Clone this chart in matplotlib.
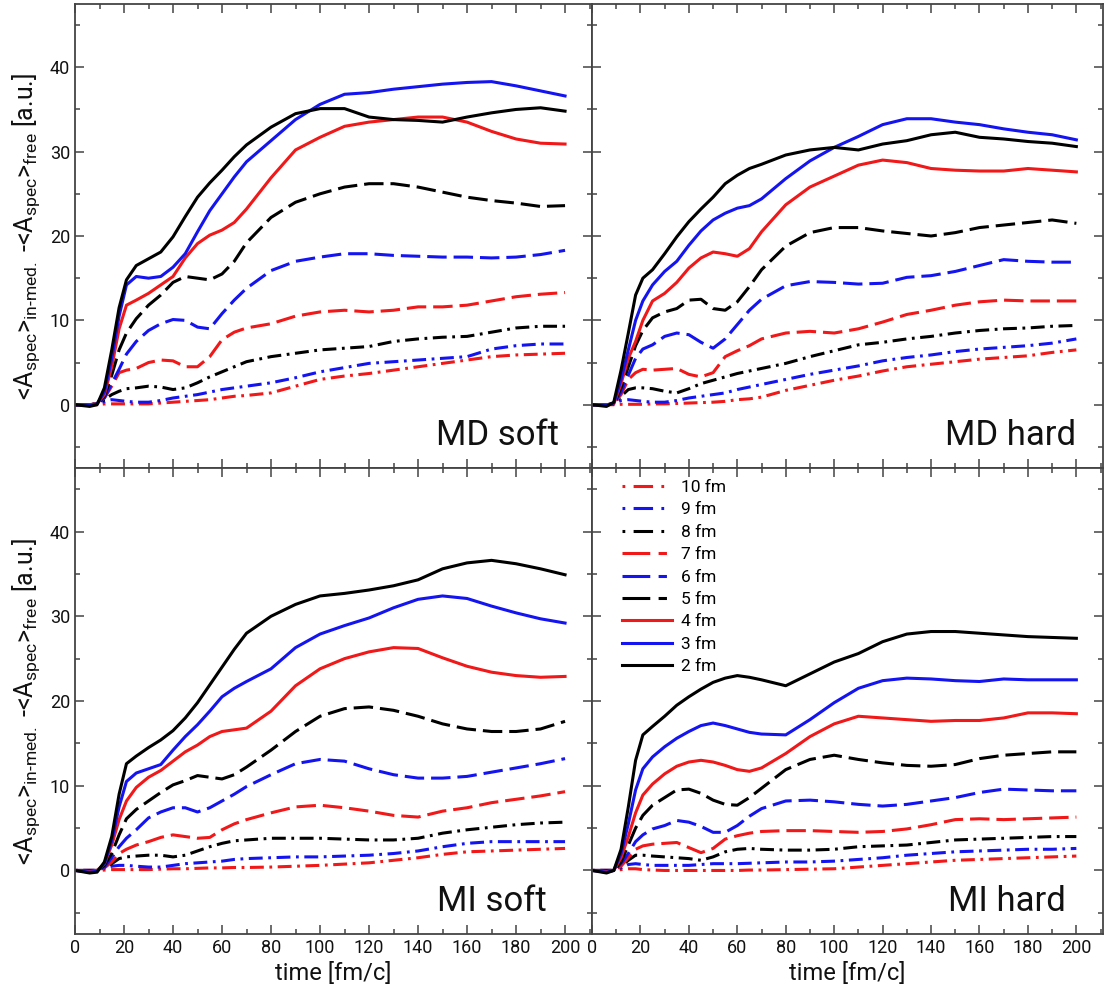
import matplotlib
matplotlib.use("Agg")
import matplotlib.pyplot as plt
from matplotlib.lines import Line2D
from matplotlib.ticker import MultipleLocator

plt.rcParams['font.family'] = ['Roboto', 'DejaVu Sans']
plt.rcParams['mathtext.fontset'] = 'custom'
plt.rcParams['mathtext.rm'] = 'Roboto'
plt.rcParams['mathtext.it'] = 'Roboto:italic'
plt.rcParams['lines.scale_dashes'] = False

# common time grid [fm/c]
time = [0, 6, 9, 12, 15, 18, 21, 25, 30, 35, 40, 45, 50, 55, 60, 65, 70,
        80, 90, 100, 110, 120, 130, 140, 150, 160, 170, 180, 190, 200]

impact = ["10 fm", "9 fm", "8 fm", "7 fm", "6 fm", "5 fm", "4 fm", "3 fm", "2 fm"]

# ---------------- MD soft ----------------
md_soft_2 = [0, -0.2, 0.0, 2.0, 6.5, 11.5, 14.8, 16.5, 17.3, 18.1, 19.9, 22.3, 24.6, 26.3, 27.8, 29.4, 30.8,
             32.9, 34.5, 35.1, 35.1, 34.1, 33.8, 33.7, 33.5, 34.1, 34.6, 35.0, 35.2, 34.8]
md_soft_3 = [0, -0.1, 0.1, 1.5, 5.5, 10.5, 14.2, 15.2, 15.0, 15.2, 16.3, 17.9, 20.5, 23.0, 25.0, 27.0, 28.8,
             31.3, 33.8, 35.6, 36.8, 37.0, 37.4, 37.7, 38.0, 38.2, 38.3, 37.8, 37.2, 36.6]
md_soft_4 = [0, 0, 0.1, 1.2, 4.5, 9.0, 11.8, 12.4, 13.2, 14.2, 15.2, 17.4, 19.1, 20.1, 20.7, 21.6, 23.2,
             26.9, 30.2, 31.7, 33.0, 33.5, 33.8, 34.1, 34.1, 33.5, 32.4, 31.5, 31.0, 30.9]
md_soft_5 = [0, 0, 0.1, 1.0, 3.5, 6.5, 8.5, 10.2, 11.8, 13.0, 14.5, 15.2, 15.0, 14.8, 15.5, 17.0, 19.2,
             22.2, 24.0, 25.0, 25.8, 26.2, 26.2, 25.8, 25.2, 24.6, 24.2, 23.9, 23.5, 23.6]
md_soft_6 = [0, 0, 0.1, 0.8, 2.5, 4.2, 6.0, 7.5, 8.8, 9.6, 10.1, 10.0, 9.2, 9.0, 10.8, 12.4, 13.8,
             15.9, 17.0, 17.5, 17.9, 17.9, 17.7, 17.6, 17.5, 17.5, 17.4, 17.5, 17.8, 18.3]
md_soft_7 = [0, 0, 0.1, 0.8, 2.2, 3.8, 4.1, 4.3, 5.0, 5.3, 5.2, 4.5, 4.5, 5.7, 7.7, 8.6, 9.1,
             9.6, 10.5, 11.0, 11.2, 11.0, 11.2, 11.6, 11.6, 11.8, 12.3, 12.8, 13.1, 13.3]
md_soft_8 = [0, 0, 0.1, 0.6, 1.2, 1.6, 1.9, 2.0, 2.2, 2.1, 1.8, 2.0, 2.6, 3.3, 3.9, 4.5, 5.1,
             5.7, 6.1, 6.5, 6.7, 6.9, 7.5, 7.8, 8.0, 8.1, 8.6, 9.1, 9.3, 9.3]
md_soft_9 = [0, 0, 0.1, 0.4, 0.6, 0.5, 0.4, 0.3, 0.3, 0.5, 0.8, 1.0, 1.2, 1.5, 1.8, 2.0, 2.2,
             2.6, 3.2, 3.9, 4.4, 4.9, 5.1, 5.3, 5.5, 5.7, 6.6, 7.0, 7.2, 7.2]
md_soft_10 = [0, 0, 0, 0.1, 0.1, 0.1, 0.1, 0.1, 0.1, 0.2, 0.3, 0.4, 0.5, 0.6, 0.8, 1.0, 1.1,
              1.4, 2.2, 3.0, 3.4, 3.7, 4.1, 4.5, 4.9, 5.3, 5.7, 5.9, 6.0, 6.1]

# ---------------- MD hard ----------------
md_hard_2 = [0, -0.2, 0.3, 4.1, 8.5, 13.0, 15.0, 16.0, 17.9, 19.9, 21.7, 23.2, 24.6, 26.2, 27.2, 28.0, 28.5,
             29.6, 30.2, 30.5, 30.2, 30.9, 31.3, 32.0, 32.3, 31.7, 31.5, 31.2, 31.0, 30.6]
md_hard_3 = [0, -0.1, 0.2, 3.0, 6.5, 10.0, 12.3, 14.2, 15.8, 17.0, 18.9, 20.6, 21.9, 22.7, 23.3, 23.6, 24.4,
             26.8, 28.9, 30.5, 31.8, 33.2, 33.9, 33.9, 33.5, 33.2, 32.7, 32.3, 32.0, 31.4]
md_hard_4 = [0, 0, 0.1, 2.5, 5.5, 7.5, 10.0, 12.3, 13.2, 14.5, 16.2, 17.4, 18.1, 17.9, 17.6, 18.5, 20.5,
             23.7, 25.8, 27.1, 28.4, 29.0, 28.7, 28.0, 27.8, 27.7, 27.7, 28.0, 27.8, 27.6]
md_hard_5 = [0, 0, 0.1, 2.0, 4.5, 7.0, 8.8, 10.3, 11.0, 11.4, 12.4, 12.5, 11.4, 11.2, 12.2, 14.0, 16.0,
             18.8, 20.4, 21.0, 21.0, 20.6, 20.3, 20.0, 20.4, 21.0, 21.3, 21.6, 21.9, 21.5]
md_hard_6 = [0, 0, 0.1, 1.5, 3.5, 5.5, 6.6, 7.1, 8.1, 8.5, 8.3, 7.4, 6.7, 7.8, 9.5, 11.2, 12.5,
             14.1, 14.6, 14.5, 14.3, 14.4, 15.1, 15.3, 15.8, 16.5, 17.2, 17.0, 16.9, 16.9]
md_hard_7 = [0, 0, 0.1, 1.2, 3.0, 3.8, 4.2, 4.1, 4.2, 4.3, 3.6, 3.3, 3.8, 5.7, 6.4, 7.0, 7.8,
             8.5, 8.7, 8.5, 9.0, 9.8, 10.7, 11.2, 11.8, 12.2, 12.4, 12.3, 12.3, 12.3]
md_hard_8 = [0, 0, 0.1, 1.0, 1.8, 2.0, 2.0, 1.9, 1.6, 1.4, 1.9, 2.5, 2.9, 3.3, 3.7, 4.0, 4.3,
             4.9, 5.7, 6.4, 7.1, 7.4, 7.8, 8.1, 8.5, 8.8, 9.0, 9.1, 9.3, 9.4]
md_hard_9 = [0, 0, 0.1, 0.5, 0.6, 0.5, 0.4, 0.3, 0.3, 0.5, 0.8, 1.0, 1.2, 1.4, 1.8, 2.1, 2.4,
             3.0, 3.6, 4.1, 4.6, 5.2, 5.6, 5.9, 6.3, 6.6, 6.8, 7.0, 7.3, 7.8]
md_hard_10 = [0, 0, 0, 0.05, 0.05, 0.05, 0.05, 0.1, 0.1, 0.15, 0.2, 0.25, 0.3, 0.4, 0.6, 0.7, 0.9,
              1.7, 2.3, 2.9, 3.4, 4.0, 4.5, 4.8, 5.1, 5.4, 5.6, 5.8, 6.2, 6.5]

# ---------------- MI soft ----------------
mi_soft_2 = [0, -0.3, -0.2, 1.0, 4.0, 9.0, 12.6, 13.5, 14.5, 15.4, 16.5, 18.0, 19.8, 21.9, 24.0, 26.1, 28.0,
             30.0, 31.4, 32.4, 32.7, 33.1, 33.6, 34.3, 35.6, 36.3, 36.6, 36.2, 35.6, 34.9]
mi_soft_3 = [0, -0.2, -0.1, 0.8, 3.5, 7.5, 10.5, 11.5, 12.0, 12.5, 14.2, 15.8, 17.2, 18.8, 20.5, 21.5, 22.3,
             23.8, 26.3, 27.9, 28.9, 29.8, 31.0, 32.0, 32.4, 32.1, 31.2, 30.4, 29.7, 29.2]
mi_soft_4 = [0, -0.1, 0, 0.8, 3.0, 6.0, 8.2, 9.8, 11.0, 11.8, 12.9, 14.0, 14.8, 15.8, 16.4, 16.6, 16.8,
             18.8, 21.8, 23.8, 25.0, 25.8, 26.3, 26.2, 25.1, 24.1, 23.4, 23.0, 22.8, 22.9]
mi_soft_5 = [0, 0, 0, 0.6, 2.0, 4.2, 6.1, 7.2, 8.2, 9.2, 10.1, 10.6, 11.2, 11.0, 10.8, 11.3, 12.2,
             14.2, 16.4, 18.2, 19.1, 19.3, 18.9, 18.2, 17.3, 16.7, 16.4, 16.4, 16.7, 17.6]
mi_soft_6 = [0, 0, 0, 0.4, 1.5, 2.8, 3.8, 4.8, 6.2, 6.9, 7.4, 7.4, 6.9, 7.4, 8.2, 9.0, 9.9,
             11.3, 12.6, 13.1, 12.9, 12.0, 11.3, 10.9, 10.9, 11.1, 11.6, 12.1, 12.6, 13.2]
mi_soft_7 = [0, 0, 0, 0.3, 1.0, 2.0, 2.5, 3.0, 3.4, 3.9, 4.2, 4.0, 3.8, 3.9, 4.8, 5.5, 6.0,
             6.8, 7.5, 7.7, 7.4, 7.0, 6.5, 6.3, 7.0, 7.4, 8.0, 8.4, 8.8, 9.3]
mi_soft_8 = [0, 0, 0, 0.3, 0.8, 1.4, 1.6, 1.7, 1.8, 1.8, 1.6, 1.8, 2.3, 2.8, 3.2, 3.5, 3.6,
             3.8, 3.8, 3.8, 3.7, 3.6, 3.6, 3.8, 4.4, 4.8, 5.1, 5.4, 5.6, 5.7]
mi_soft_9 = [0, 0, 0, 0.3, 0.5, 0.6, 0.6, 0.5, 0.4, 0.4, 0.6, 0.8, 0.9, 1.0, 1.1, 1.3, 1.4,
             1.5, 1.6, 1.6, 1.7, 1.8, 2.0, 2.3, 2.8, 3.2, 3.4, 3.4, 3.4, 3.4]
mi_soft_10 = [0, 0, 0, 0.05, 0.1, 0.1, 0.1, 0.1, 0.1, 0.15, 0.2, 0.2, 0.25, 0.3, 0.3, 0.35, 0.35,
              0.4, 0.5, 0.6, 0.75, 0.9, 1.2, 1.5, 1.9, 2.2, 2.3, 2.4, 2.5, 2.6]

# ---------------- MI hard ----------------
mi_hard_2 = [0, -0.3, 0.0, 2.5, 7.5, 13.0, 16.0, 17.0, 18.2, 19.5, 20.5, 21.4, 22.2, 22.7, 23.0, 22.8, 22.5,
             21.8, 23.2, 24.6, 25.6, 27.0, 27.9, 28.2, 28.2, 28.0, 27.8, 27.6, 27.5, 27.4]
mi_hard_3 = [0, -0.2, 0, 2.0, 5.5, 9.5, 12.0, 13.4, 14.6, 15.6, 16.4, 17.1, 17.4, 17.1, 16.7, 16.3, 16.1,
             16.0, 17.8, 19.8, 21.5, 22.4, 22.7, 22.6, 22.4, 22.3, 22.6, 22.5, 22.5, 22.5]
mi_hard_4 = [0, -0.1, 0, 1.5, 4.0, 6.8, 8.9, 10.2, 11.4, 12.3, 12.8, 13.0, 12.8, 12.4, 11.9, 11.7, 12.1,
             13.8, 15.8, 17.3, 18.2, 18.0, 17.8, 17.6, 17.7, 17.7, 18.0, 18.6, 18.6, 18.5]
mi_hard_5 = [0, 0, 0, 1.0, 3.0, 5.0, 6.5, 7.7, 8.6, 9.5, 9.6, 9.1, 8.3, 7.8, 7.7, 8.6, 9.7,
             11.9, 13.1, 13.6, 13.1, 12.7, 12.4, 12.3, 12.5, 13.2, 13.6, 13.8, 14.0, 14.0]
mi_hard_6 = [0, 0, 0, 0.8, 2.0, 3.4, 4.2, 4.9, 5.3, 5.9, 5.7, 5.2, 4.5, 4.5, 5.3, 6.4, 7.3,
             8.2, 8.3, 8.1, 7.8, 7.6, 7.8, 8.2, 8.6, 9.2, 9.6, 9.5, 9.4, 9.4]
mi_hard_7 = [0, 0, 0, 0.5, 1.5, 2.5, 2.9, 3.1, 3.2, 3.3, 2.7, 2.1, 2.6, 3.7, 4.1, 4.4, 4.6,
             4.7, 4.7, 4.6, 4.5, 4.6, 4.9, 5.4, 6.0, 6.1, 6.0, 6.1, 6.2, 6.3]
mi_hard_8 = [0, 0, 0, 0.5, 1.2, 1.8, 1.8, 1.7, 1.6, 1.5, 1.4, 1.2, 1.6, 2.2, 2.5, 2.6, 2.5,
             2.4, 2.4, 2.5, 2.8, 2.9, 3.0, 3.3, 3.6, 3.7, 3.8, 3.9, 4.0, 4.0]
mi_hard_9 = [0, 0, 0, 0.3, 0.7, 0.8, 0.7, 0.6, 0.6, 0.6, 0.6, 0.7, 0.8, 0.8, 0.8, 0.85, 0.9,
             1.0, 1.0, 1.1, 1.3, 1.5, 1.8, 2.0, 2.2, 2.3, 2.4, 2.5, 2.5, 2.6]
mi_hard_10 = [0, 0, 0, 0.1, 0.2, 0.2, 0.1, 0.05, 0.0, 0.0, 0.0, 0.0, 0.0, 0.0, 0.0, 0.05, 0.05,
              0.1, 0.15, 0.2, 0.4, 0.6, 0.8, 1.0, 1.2, 1.3, 1.4, 1.5, 1.6, 1.7]

panels = [
    ("MD soft", 197.5, [md_soft_10, md_soft_9, md_soft_8, md_soft_7, md_soft_6, md_soft_5, md_soft_4, md_soft_3, md_soft_2]),
    ("MD hard", 200.0, [md_hard_10, md_hard_9, md_hard_8, md_hard_7, md_hard_6, md_hard_5, md_hard_4, md_hard_3, md_hard_2]),
    ("MI soft", 192.5, [mi_soft_10, mi_soft_9, mi_soft_8, mi_soft_7, mi_soft_6, mi_soft_5, mi_soft_4, mi_soft_3, mi_soft_2]),
    ("MI hard", 195.5, [mi_hard_10, mi_hard_9, mi_hard_8, mi_hard_7, mi_hard_6, mi_hard_5, mi_hard_4, mi_hard_3, mi_hard_2]),
]

RED, BLUE, BLACK = "#f01818", "#1414f0", "#000000"
colors = [RED, BLUE, BLACK] * 3
dashdot = (0, (2.0, 4.0, 10.0, 4.0))
dashed = (0, (14.0, 5.0))
styles = [dashdot] * 3 + [dashed] * 3 + ["-"] * 3
# legend samples: dot + long dash, long dash + short dash, solid
legend_styles = [(0, (2.0, 6.0, 14.0, 6.0))] * 3 + [(0, (20.0, 6.0, 6.0, 6.0))] * 3 + ["-"] * 3

fig = plt.figure(figsize=(11.12, 10.01), dpi=100)
L, M, R = 75 / 1112, 592 / 1112, 1103 / 1112
Ymid, Ytop, Ybot = 1 - 468 / 1001, 1 - 4 / 1001, 1 - 934 / 1001
rects = [(L, Ymid, M - L, Ytop - Ymid), (M, Ymid, R - M, Ytop - Ymid),
         (L, Ybot, M - L, Ymid - Ybot), (M, Ybot, R - M, Ymid - Ybot)]

axis_col = "#444444"
ylabel = (r"<A$_{\rm spec}$>$_{\rm in{\text{-}}med.}$ -<A$_{\rm spec}$>$_{\rm free}$ [a.u.]")

for idx, (rect, (name, xlab, series)) in enumerate(zip(rects, panels)):
    ax = fig.add_axes(rect)
    for vals, c, ls, lab in zip(series, colors, styles, impact):
        ax.plot(time, vals, color=c, linestyle=ls, lw=2.2, label=lab)
    ax.set_xlim(0, 211)
    ax.set_ylim(-7.5, 47.5)
    ax.xaxis.set_major_locator(MultipleLocator(20))
    ax.xaxis.set_minor_locator(MultipleLocator(10))
    ax.yaxis.set_major_locator(MultipleLocator(10))
    ax.yaxis.set_minor_locator(MultipleLocator(5))
    ax.tick_params(which="both", direction="in", top=True, right=True, colors=axis_col,
                   labelcolor="#111111", labelsize=13)
    ax.tick_params(which="major", length=6.5, width=1.1)
    ax.tick_params(which="minor", length=3.3, width=1.1)
    for sp in ax.spines.values():
        sp.set_color(axis_col)
        sp.set_linewidth(1.3)
    ax.text(xlab, -4.8, name, ha="right", va="baseline", fontsize=25, color="#111111")
    if idx in (0, 1):
        ax.tick_params(labelbottom=False)
    else:
        ax.set_xlabel("time [fm/c]", fontsize=17, labelpad=4, color="#111111")
    if idx in (1, 3):
        ax.tick_params(labelleft=False)
    else:
        ax.set_ylabel(ylabel, fontsize=18, labelpad=6, color="#111111")
    if idx == 3:
        handles = [Line2D([], [], color=c, linestyle=ls, lw=2.2)
                   for c, ls in zip(colors, legend_styles)]
        ax.legend(handles, impact, loc="upper left", bbox_to_anchor=(0.059, 0.975),
                  frameon=False, fontsize=12.5, handlelength=2.9, handletextpad=0.5,
                  labelspacing=0.42, borderpad=0, borderaxespad=0)

fig.savefig("out.png", dpi=100)
